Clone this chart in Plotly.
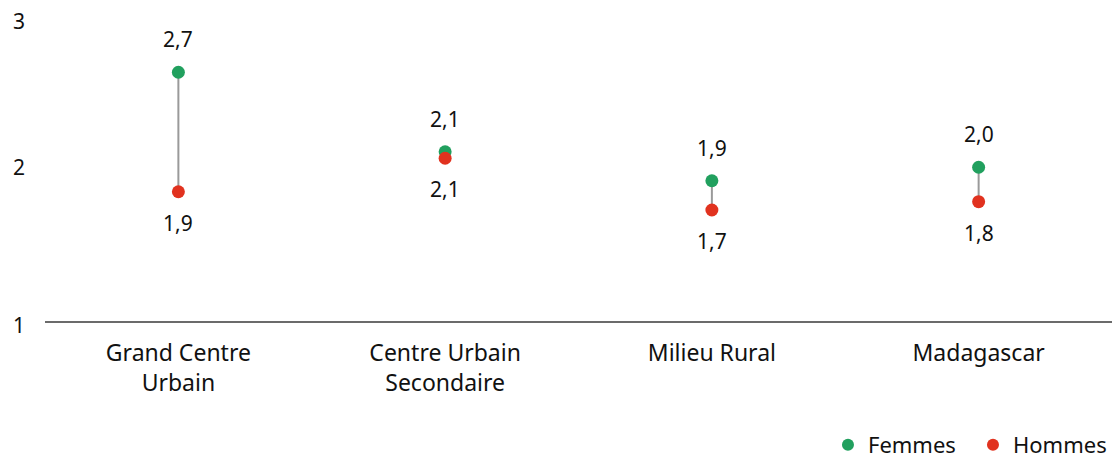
import plotly.graph_objects as go

categories = ["Grand Centre<br>Urbain", "Centre Urbain<br>Secondaire", "Milieu Rural", "Madagascar"]
femmes = [2.605, 2.092, 1.905, 1.992]
hommes = [1.834, 2.050, 1.716, 1.770]
femmes_labels = ["2,7", "2,1", "1,9", "2,0"]
hommes_labels = ["1,9", "2,1", "1,7", "1,8"]
y_ticks = [1, 2, 3]

GREEN = "#21A05E"
RED = "#E1321F"
FONT = "Noto Sans"
FS = 21

fig = go.Figure()

# connecting lines
lx, ly = [], []
for c, f, h in zip(categories, femmes, hommes):
    lx += [c, c, None]
    ly += [f, h, None]
fig.add_trace(go.Scatter(x=lx, y=ly, mode="lines", line=dict(color="#9a9a9a", width=2),
                         showlegend=False, hoverinfo="skip"))

fig.add_trace(go.Scatter(x=categories, y=femmes, mode="markers", name="Femmes",
                         marker=dict(color=GREEN, size=13)))
fig.add_trace(go.Scatter(x=categories, y=hommes, mode="markers", name="Hommes",
                         marker=dict(color=RED, size=13)))

for c, f, t in zip(categories, femmes, femmes_labels):
    fig.add_annotation(x=c, y=f, text=t, showarrow=False, yshift=33,
                       font=dict(family=FONT, size=FS, color="#111"))
for c, h, t in zip(categories, hommes, hommes_labels):
    fig.add_annotation(x=c, y=h, text=t, showarrow=False, yshift=-31,
                       font=dict(family=FONT, size=FS, color="#111"))

shifts = {1: -4, 2: -1, 3: -10}
for v in y_ticks:
    fig.add_annotation(x=0, xref="paper", xanchor="right", xshift=-18, y=v, yref="y",
                       yshift=shifts[v], text=str(v), showarrow=False,
                       font=dict(family=FONT, size=FS, color="#111"))

fig.update_layout(
    width=1112, height=460,
    margin=dict(l=45, r=0, t=11, b=139, autoexpand=False),
    plot_bgcolor="white", paper_bgcolor="white",
    font=dict(family=FONT, size=FS, color="#111"),
    xaxis=dict(showgrid=False, showline=True, linecolor="#6b6b6b", linewidth=2,
               ticks="", tickfont=dict(size=23), ticklabelstandoff=10,
               range=[-0.5, 3.5], fixedrange=True),
    yaxis=dict(range=[1, 3], showgrid=False, zeroline=False, showline=False,
               showticklabels=False, tickvals=y_ticks, fixedrange=True),
    legend=dict(orientation="h", x=1.0056, xanchor="right", y=-0.40, yanchor="middle",
                font=dict(family=FONT, size=22), itemsizing="constant",
                entrywidth=100, entrywidthmode="pixels",
                traceorder="normal"),
    showlegend=True,
)

fig.write_html("out.html", config={"displayModeBar": False},
               post_script="document.body.style.margin='0';")
